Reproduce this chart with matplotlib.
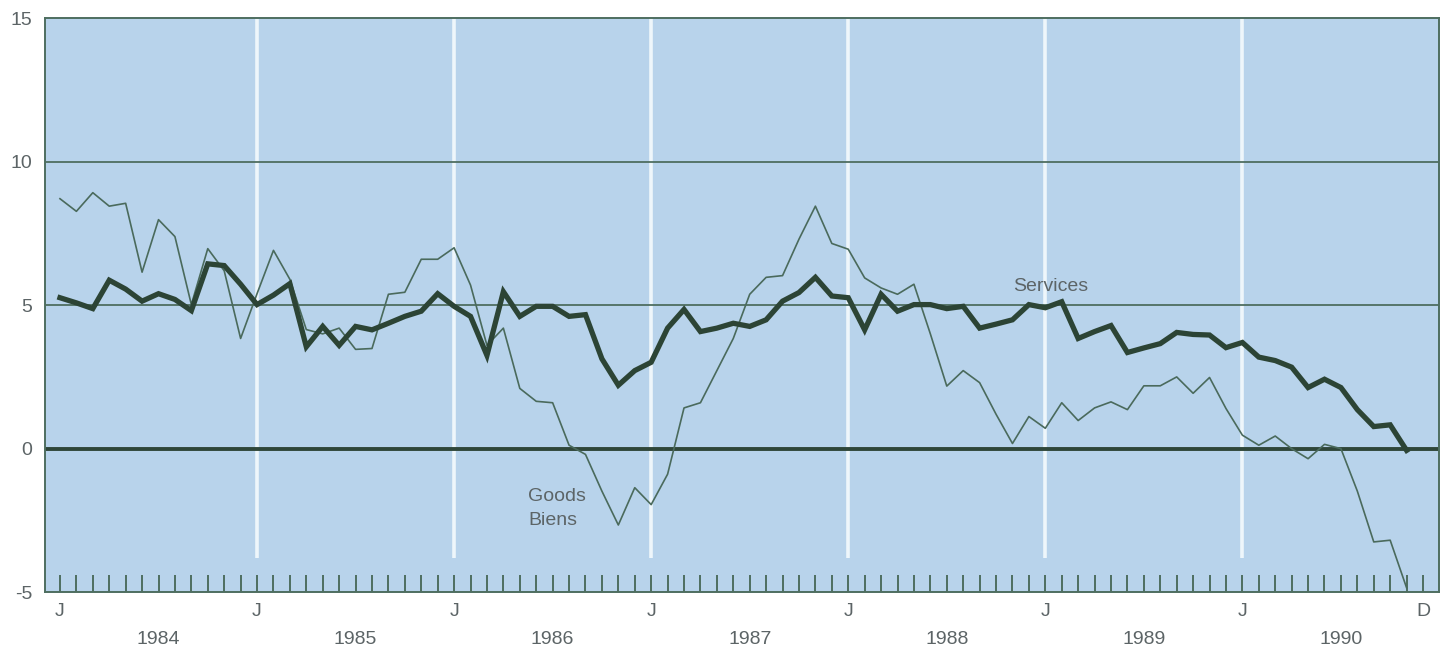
"""Goods vs services, monthly 1984-1990 (year-over-year % change)."""

import matplotlib

matplotlib.use("Agg")
import matplotlib.pyplot as plt
import matplotlib.transforms as mtransforms
import numpy as np

# --- data (Jan 1984 .. Nov 1990) ---
years = [1984, 1985, 1986, 1987, 1988, 1989, 1990]
n_months = 84  # Jan 1984 .. Dec 1990 (axis span)

goods = [
    8.71, 8.27, 8.92, 8.45, 8.55, 6.15, 7.98, 7.39, 5.02, 6.97, 6.20, 3.84,
    5.40, 6.91, 5.90, 4.15, 4.00, 4.20, 3.46, 3.49, 5.38, 5.45, 6.60, 6.60,
    7.00, 5.70, 3.60, 4.20, 2.10, 1.65, 1.60, 0.12, -0.20, -1.48, -2.66, -1.36,
    -1.95, -0.89, 1.42, 1.60, 2.72, 3.84, 5.38, 5.97, 6.03, 7.30, 8.45, 7.15,
    6.95, 5.95, 5.60, 5.38, 5.73, 4.00, 2.18, 2.72, 2.30, 1.20, 0.18, 1.12,
    0.71, 1.60, 0.98, 1.42, 1.63, 1.36, 2.19, 2.19, 2.50, 1.93, 2.48, 1.40,
    0.47, 0.12, 0.44, 0.00, -0.35, 0.15, 0.00, -1.48, -3.25, -3.19, -4.85,
]
services = [
    5.26, 5.08, 4.88, 5.87, 5.56, 5.14, 5.40, 5.20, 4.81, 6.44, 6.38, 5.73,
    5.02, 5.35, 5.75, 3.55, 4.26, 3.60, 4.26, 4.14, 4.37, 4.61, 4.79, 5.40,
    4.96, 4.61, 3.25, 5.47, 4.61, 4.96, 4.96, 4.61, 4.67, 3.13, 2.21, 2.72,
    3.01, 4.20, 4.85, 4.08, 4.20, 4.37, 4.26, 4.49, 5.14, 5.44, 5.97, 5.32,
    5.26, 4.14, 5.38, 4.79, 5.02, 5.02, 4.88, 4.96, 4.20, 4.34, 4.49, 5.02,
    4.91, 5.12, 3.84, 4.08, 4.29, 3.35, 3.51, 3.66, 4.05, 3.98, 3.96, 3.52,
    3.70, 3.19, 3.07, 2.84, 2.13, 2.42, 2.13, 1.36, 0.77, 0.83, -0.06,
]

BG = "#b8d3eb"
DARK = "#2c4435"
THIN = "#4a6a5c"
FRAME = "#4e6e60"
TEXT = "#5c6466"
FS = 14


def main() -> None:
    plt.rcParams["font.family"] = ["Liberation Sans", "DejaVu Sans"]

    fig = plt.figure(figsize=(14.43, 6.5), dpi=100)
    ax = fig.add_axes([0.0312, 0.089, 0.9660, 0.883])
    ax.set_facecolor(BG)

    months = np.arange(n_months)
    x_g = np.arange(len(goods))
    x_s = np.arange(len(services))

    # white year separators (stop short of the tick strip)
    jans = months[12::12]
    ax.vlines(jans, -3.8, 15, colors="#eef6fb", lw=2.6, zorder=1)

    # horizontal reference lines
    for y in (5, 10):
        ax.axhline(y, color=FRAME, lw=1.3, zorder=2)
    ax.axhline(0, color="#2f4639", lw=2.8, zorder=2)

    ax.plot(x_g, goods, color=THIN, lw=1.2, zorder=3)
    ax.plot(x_s, services, color=DARK, lw=3.8, solid_joinstyle="miter", zorder=4)

    ax.text(60.3, 5.65, "Services", color=TEXT, fontsize=FS, ha="center", va="center")
    ax.text(28.5, -1.68, "Goods", color=TEXT, fontsize=FS, ha="left", va="center")
    ax.text(28.5, -2.52, "Biens", color=TEXT, fontsize=FS, ha="left", va="center")

    ax.set_xlim(-0.91, 83.97)
    ax.set_ylim(-5, 15)

    # month ticks, J at each January, D at the end
    ax.set_xticks(months)
    labels = ["J" if m % 12 == 0 else "" for m in months]
    labels[-1] = "D"
    ax.set_xticklabels(labels)
    ax.tick_params(axis="x", direction="in", length=12, width=1.4, colors=FRAME,
                   labelcolor=TEXT, labelsize=FS, pad=8)
    ax.set_yticks([-5, 0, 5, 10, 15])
    ax.set_yticklabels(["-5", "0", "5", "10", "15"])
    ax.tick_params(axis="y", length=0, labelcolor=TEXT, labelsize=FS, pad=9)

    trans = mtransforms.blended_transform_factory(ax.transData, ax.transAxes)
    for k, yr in enumerate(years):
        ax.text(6 + 12 * k, -0.083, str(yr), transform=trans, ha="center", va="center",
                color=TEXT, fontsize=FS)

    for side in ax.spines.values():
        side.set_color(FRAME)
        side.set_linewidth(1.4)

    fig.savefig("out.png", dpi=100, facecolor="white")


if __name__ == "__main__":
    main()
